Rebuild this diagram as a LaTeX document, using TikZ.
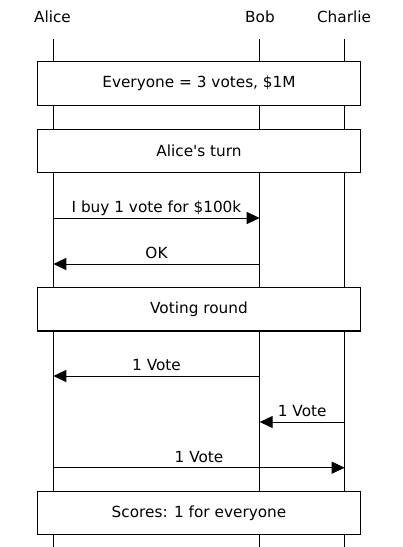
\documentclass[tikz,border=0pt]{standalone}
\usepackage{fontspec}
\setmainfont{DejaVu Sans}
\newfontfamily\dvplain{DejaVu Sans}[Ligatures=ResetAll]
\usetikzlibrary{arrows.meta}
\begin{document}
\begin{tikzpicture}[x=1pt,y=-1pt,
  txt/.style={font=\dvplain\fontsize{15.3}{18}\selectfont, inner sep=0pt},
  lbl/.style={txt, anchor=base},
  life/.style={line width=1pt},
  bar/.style={txt, draw, fill=white, line width=1.1pt, minimum width=322.6pt, minimum height=43.4pt},
  msg/.style={line width=1pt, -{Triangle[length=13pt,width=12pt]}}]
\useasboundingbox (0,0) rectangle (403,547);
% headers
\node[lbl] (hA) at (52.5,22) {Alice};
\node[lbl] (hB) at (260,22) {Bob};
\node[lbl] (hC) at (344,22) {Charlie};
% lifelines
\coordinate (At) at (53.3,39.3); \coordinate (Ab) at (53.3,547);
\coordinate (Bt) at (259.7,39.3); \coordinate (Bb) at (259.7,547);
\coordinate (Ct) at (344.7,39.3); \coordinate (Cb) at (344.7,547);
\draw[life] (At) -- (Ab);
\draw[life] (Bt) -- (Bb);
\draw[life] (Ct) -- (Cb);
% boxes
\node[bar] (b1) at (199,83.5) {Everyone = 3 votes, \$1M};
\node[bar] (b2) at (199,151) {Alice\char"0027 s turn};
\node[bar] (b3) at (199,309.3) {Voting round};
\node[bar] (b4) at (199,513.2) {Scores: 1 for everyone};
% messages
\coordinate (m1a) at (53.3,218); \coordinate (m1b) at (259.7,218);
\draw[msg] (m1a) -- (m1b);
\node[lbl] (l1) at (156.5,212.5) {I buy 1 vote for \$100k};
\coordinate (m2a) at (259.7,264); \coordinate (m2b) at (53.3,264);
\draw[msg] (m2a) -- (m2b);
\node[lbl] (l2) at (156.5,258.5) {OK};
\coordinate (m3a) at (259.7,376); \coordinate (m3b) at (53.3,376);
\draw[msg] (m3a) -- (m3b);
\node[lbl] (l3) at (156.5,370.5) {1 Vote};
\coordinate (m4a) at (344.7,422); \coordinate (m4b) at (259.7,422);
\draw[msg] (m4a) -- (m4b);
\node[lbl] (l4) at (302.2,416.5) {1 Vote};
\coordinate (m5a) at (53.3,467.7); \coordinate (m5b) at (344.7,467.7);
\draw[msg] (m5a) -- (m5b);
\node[lbl] (l5) at (199,462.2) {1 Vote};
\end{tikzpicture}
\end{document}
